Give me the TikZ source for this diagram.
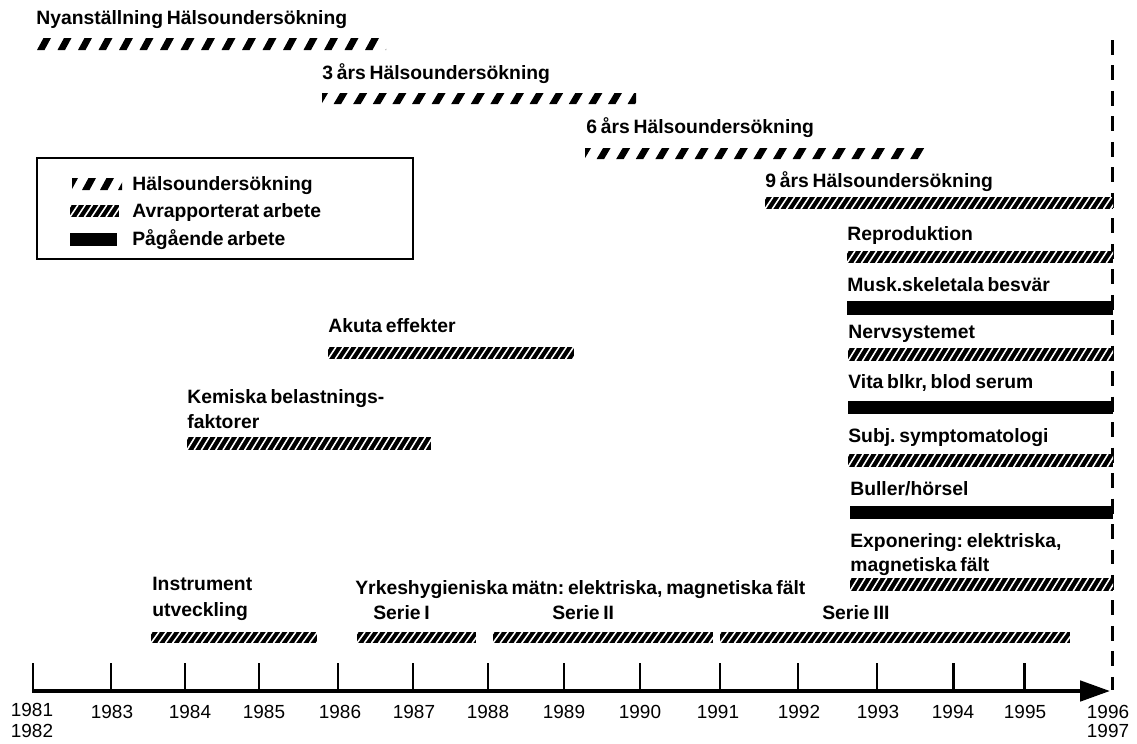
\documentclass[tikz,border=0pt]{standalone}
\usepackage{fontspec}
\setmainfont[WordSpace=0.7]{Liberation Sans}
\usetikzlibrary{arrows.meta}
\frenchspacing
\newcommand\hatchbar[4]{%
  \fill[black] (#1,#3) rectangle (#2,#4);
  \begin{scope}
    \clip (#1,#3) rectangle (#2,#4);
    \pgfmathtruncatemacro\nstripes{(#2-#1)/7.2+2}
    \foreach \k in {-2,...,\nstripes}{
      \draw[white,line width=0.9pt] ({#1+\k*7.2},#4) -- ({#1+\k*7.2+8},#3);
    }
  \end{scope}}
% x1, x2, top, bottom, phase, period
\newcommand\dashbar[6]{%
  \begin{scope}
    \clip (#1,#3) rectangle (#2,#4);
    \pgfmathtruncatemacro\ndash{(#2-#1)/#6+2}
    \foreach \k in {-1,...,\ndash}{
      \fill ({#1+#5+\k*#6},#4) -- ++(7.5,0) -- ++(6.5,{-(#4-#3)}) -- ++(-7.5,0) -- cycle;
    }
  \end{scope}}
\tikzset{
  lbl/.style={anchor=base west,inner sep=0pt,font=\bfseries\fontsize{11}{12}\selectfont},
  yr/.style={anchor=base,inner sep=0pt,font=\fontsize{10.8}{12}\selectfont},
  tick/.style={line width=1.7pt},
}
\begin{document}
\begin{tikzpicture}[x=0.02cm,y=-0.02cm]
\useasboundingbox (0,0) rectangle (1137,744);
% vertical dashed line
\coordinate (vtop) at (1112,40);
\coordinate (vbot) at (1112,690);
\draw[line width=1.7pt,dash pattern=on 8.5pt off 6pt] (vtop) -- (vbot);
% axis
\coordinate (axs) at (32,691);
\coordinate (axe) at (1110,691);
\draw[line width=2.3pt,-{Triangle[length=17pt,width=11.5pt]}] (axs) -- (axe);
\foreach \x in {33,111,185,259,338,413,488,564,640,720,798,877,953,1024}
  \draw[tick] (\x,663) -- (\x,691);
% year labels
\node[yr] (y81) at (32,716) {1981};
\node[yr] (y82) at (32,737) {1982};
\node[yr] (y83) at (112,718) {1983};
\node[yr] (y84) at (190,718) {1984};
\node[yr] (y85) at (264,718) {1985};
\node[yr] (y86) at (340,718) {1986};
\node[yr] (y87) at (414,718) {1987};
\node[yr] (y88) at (488,718) {1988};
\node[yr] (y89) at (564,718) {1989};
\node[yr] (y90) at (640,718) {1990};
\node[yr] (y91) at (718,718) {1991};
\node[yr] (y92) at (799,718) {1992};
\node[yr] (y93) at (878,718) {1993};
\node[yr] (y94) at (953,718) {1994};
\node[yr] (y95) at (1025,718) {1995};
\node[yr] (y96) at (1108,718) {1996};
\node[yr] (y97) at (1108,737) {1997};
% Health exams
\node[lbl] (nyan) at (36,24) {Nyanställning Hälsoundersökning};
\dashbar{37}{386}{38}{50}{0}{20.5}
\node[lbl] (h3) at (322,79) {3 års Hälsoundersökning};
\dashbar{322}{636}{93}{104}{-8}{19.6}
\node[lbl] (h6) at (586,133) {6 års Hälsoundersökning};
\dashbar{585}{926}{148}{159}{-8}{19.6}
\node[lbl] (h9) at (765,187) {9 års Hälsoundersökning};
\hatchbar{765}{1113}{197}{209}
% legend
\node[draw,line width=1.2pt,minimum width=376*0.02cm,minimum height=101*0.02cm,anchor=north west,inner sep=0pt] (leg) at (36,157) {};
\dashbar{72}{122}{178}{190}{-8}{18}
\node[lbl] (l1) at (132,190) {Hälsoundersökning};
\hatchbar{70}{119}{205}{217}
\node[lbl] (l2) at (132,217) {Avrapporterat arbete};
\fill (70,233) rectangle (117,246);
\node[lbl] (l3) at (132,245) {Pågående arbete};
% right column
\node[lbl] (repro) at (847,240) {Reproduktion};
\hatchbar{847}{1113}{251}{263}
\node[lbl] (musk) at (847,291) {Musk.skeletala besvär};
\fill (847,301) rectangle (1113,315);
\node[lbl] (nerv) at (848,338) {Nervsystemet};
\hatchbar{848}{1113}{348}{361}
\node[lbl] (vita) at (848,388) {Vita blkr, blod serum};
\fill (848,401) rectangle (1113,414);
\node[lbl] (subj) at (848,442) {Subj. symptomatologi};
\hatchbar{848}{1113}{454}{467}
\node[lbl] (bull) at (850,495) {Buller/hörsel};
\fill (850,506) rectangle (1113,519);
\node[lbl] (expo1) at (850,547) {Exponering: elektriska,};
\node[lbl] (expo2) at (850,571) {magnetiska fält};
\hatchbar{850}{1113}{578}{591}
% middle
\node[lbl] (akut) at (328,332) {Akuta effekter};
\hatchbar{328}{574}{347}{359}
\node[lbl] (kem1) at (187,403) {Kemiska belastnings-};
\node[lbl] (kem2) at (187,428) {faktorer};
\hatchbar{187}{431}{437}{450}
\node[lbl] (instr1) at (152,590) {Instrument};
\node[lbl] (instr2) at (152,616) {utveckling};
\hatchbar{151}{317}{632}{643}
\node[lbl] (yrk) at (355,594) {Yrkeshygieniska mätn: elektriska, magnetiska fält};
\node[lbl] (s1) at (373,619) {Serie I};
\hatchbar{357}{476}{632}{643}
\node[lbl] (s2) at (552,619) {Serie II};
\hatchbar{493}{713}{632}{643}
\node[lbl] (s3) at (822,619) {Serie III};
\hatchbar{720}{1070}{632}{643}
\end{tikzpicture}
\end{document}
